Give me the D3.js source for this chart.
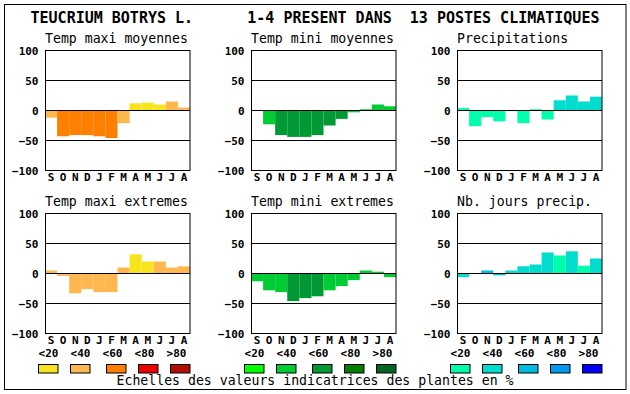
<!DOCTYPE html>
<html>
<head>
<meta charset="utf-8">
<script src="https://cdn.jsdelivr.net/npm/d3@7"></script>
<style>
  body { margin: 0; background: #fff; }
  text { font-family: "DejaVu Sans Mono", monospace; }
</style>
</head>
<body>
<div id="chart"></div>
<script>
var width = 630, height = 394

// donnees
const speciesName = "TEUCRIUM BOTRYS L."
const presence = "1-4"
const nPostes = 13
const months = ["S", "O", "N", "D", "J", "F", "M", "A", "M", "J", "J", "A"]
const yTicks = [100, 50, 0, -50, -100]
const gridValues = [50, 0, -50]
const classLabels = ["<20", "<40", "<60", "<80", ">80"]

const warmColors = ["#f7e41c", "#ffb84d", "#ff8000", "#ee0000", "#b01000"]
const greenColors = ["#00ff00", "#00cc33", "#009933", "#008000", "#006622"]
const blueColors = ["#00ffaa", "#00ddcc", "#00bbdd", "#0099ee", "#0000ff"]

const tempMaxiMoy = [-12, -43, -41, -41, -43, -46, -21, 12, 13, 10, 15, 5]
const tempMaxiMoyCls = [1, 2, 2, 2, 2, 2, 1, 0, 0, 0, 1, 1]
const tempMiniMoy = [0, -23, -41, -44, -44, -41, -25, -14, -3, 2, 10, 7]
const tempMiniMoyCls = [1, 1, 2, 2, 2, 2, 2, 2, 1, 1, 1, 1]
const precip = [4, -26, -11, -18, -1, -21, 2, -15, 17, 25, 15, 23]
const precipCls = [0, 0, 0, 0, 0, 0, 0, 0, 1, 1, 1, 1]
const tempMaxiExt = [5, -4, -33, -26, -31, -31, 10, 32, 20, 20, 10, 12]
const tempMaxiExtCls = [1, 1, 1, 1, 1, 1, 1, 0, 0, 1, 1, 1]
const tempMiniExt = [-13, -28, -31, -46, -41, -38, -28, -21, -11, 5, 3, -6]
const tempMiniExtCls = [1, 1, 1, 2, 2, 2, 1, 1, 1, 1, 1, 1]
const joursPrecip = [-6, 0, 5, -3, 5, 12, 15, 35, 30, 37, 13, 25]
const joursPrecipCls = [1, 1, 2, 2, 1, 1, 1, 1, 0, 1, 0, 1]

const panels = [
	{ title: "Temp maxi moyennes", values: tempMaxiMoy, cls: tempMaxiMoyCls, palette: warmColors, col: 0, row: 0 },
	{ title: "Temp mini moyennes", values: tempMiniMoy, cls: tempMiniMoyCls, palette: greenColors, col: 1, row: 0 },
	{ title: "Precipitations", values: precip, cls: precipCls, palette: blueColors, col: 2, row: 0 },
	{ title: "Temp maxi extremes", values: tempMaxiExt, cls: tempMaxiExtCls, palette: warmColors, col: 0, row: 1, legend: true },
	{ title: "Temp mini extremes", values: tempMiniExt, cls: tempMiniExtCls, palette: greenColors, col: 1, row: 1, legend: true },
	{ title: "Nb. jours precip.", values: joursPrecip, cls: joursPrecipCls, palette: blueColors, col: 2, row: 1, legend: true }
]

// mise en page
const colLeft = [45, 251, 457]
const rowTop = [50.5, 213.5]
const plotW = 145, plotH = 120
const legendBoxDx = [-6.5, 25.5, 61.5, 93.5, 125.5]

const svg = d3.select('#chart')
	.append('svg')
	.attr('width', width)
	.attr('height', height)

svg.append('rect')
	.attr('x', 4.5).attr('y', 4.5)
	.attr('width', 621.5).attr('height', 385)
	.attr('fill', 'none')
	.attr('stroke', '#000')

svg.append('text')
	.attr('x', 315).attr('y', 23)
	.attr('text-anchor', 'middle')
	.style('white-space', 'pre')
	.style('font-size', '15px')
	.style('font-weight', 'bold')
	.text(`${speciesName}      ${presence} PRESENT DANS  ${nPostes} POSTES CLIMATIQUES`)

const x = d3.scaleBand().domain(d3.range(12)).range([0, plotW]).padding(0)

panels.forEach(p => {
	const left = colLeft[p.col], top = rowTop[p.row]
	const y = d3.scaleLinear().domain([-100, 100]).range([top + plotH, top])
	const g = svg.append('g').attr('transform', `translate(${left},0)`)

	g.append('text')
		.attr('x', 0).attr('y', top - 8)
		.style('font-size', '13.2px')
		.text(p.title)

	// barres
	g.append('g')
		.selectAll('rect')
		.data(p.values)
		.join('rect')
		.attr('x', (d, i) => x(i))
		.attr('width', x.bandwidth())
		.attr('y', d => Math.min(y(d), y(0)))
		.attr('height', d => Math.abs(y(d) - y(0)))
		.attr('fill', (d, i) => p.palette[p.cls[i]])

	// lignes 50 / 0 / -50
	g.append('g')
		.selectAll('line')
		.data(gridValues)
		.join('line')
		.attr('x1', 0).attr('x2', plotW)
		.attr('y1', d => y(d)).attr('y2', d => y(d))
		.attr('stroke', '#000')

	g.append('rect')
		.attr('x', 0.5).attr('y', top)
		.attr('width', plotW - 0.5).attr('height', plotH)
		.attr('fill', 'none')
		.attr('stroke', '#000')

	const ya = g.append('g')
		.call(d3.axisLeft(y).tickValues(yTicks).tickSize(0).tickPadding(6.5))
	ya.select('.domain').remove()
	ya.selectAll('text')
		.attr('font-family', null)
		.style('font-size', '11px')
		.style('font-weight', 'bold')
		.attr('dy', '0.32em')

	const xa = g.append('g')
		.attr('transform', `translate(0,${top + plotH})`)
		.call(d3.axisBottom(x).tickFormat(i => months[i]).tickSize(0).tickPadding(3))
	xa.select('.domain').remove()
	xa.selectAll('text')
		.attr('font-family', null)
		.style('font-size', '11px')
		.style('font-weight', 'bold')

	if (p.legend) {
		const bottom = top + plotH
		g.append('g')
			.selectAll('text')
			.data(classLabels)
			.join('text')
			.attr('x', (d, i) => 3.5 + 32 * i)
			.attr('y', bottom + 23.5)
			.attr('text-anchor', 'middle')
			.style('font-size', '11px')
			.style('font-weight', 'bold')
			.text(d => d)
		g.append('g')
			.selectAll('rect')
			.data(p.palette)
			.join('rect')
			.attr('x', (d, i) => legendBoxDx[i])
			.attr('y', 364.5)
			.attr('width', 19.5).attr('height', 8.5)
			.attr('fill', d => d)
			.attr('stroke', '#000')
	}
})

svg.append('text')
	.attr('x', 315).attr('y', 385)
	.attr('text-anchor', 'middle')
	.style('font-size', '13.2px')
	.text('Echelles des valeurs indicatrices des plantes en %')
</script>
</body>
</html>
